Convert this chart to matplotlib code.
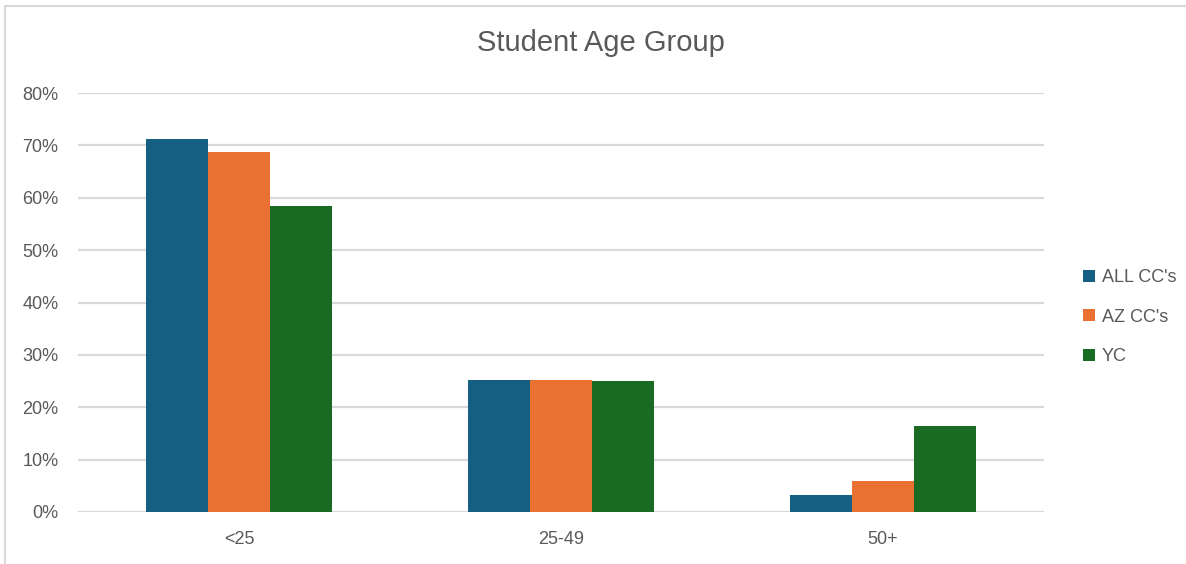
import numpy as np
import matplotlib.pyplot as plt
from matplotlib.patches import Rectangle
from matplotlib.ticker import PercentFormatter

plt.rcParams['font.family'] = ['Liberation Sans', 'DejaVu Sans']

groups = ["<25", "25-49", "50+"]
series = ["ALL CC's", "AZ CC's", "YC"]
all_cc = [0.712, 0.252, 0.032]
az_cc = [0.687, 0.252, 0.059]
yc = [0.584, 0.250, 0.164]
colors = ["#156082", "#E97132", "#196B24"]

text_gray = "#595959"
grid_gray = "#D9D9D9"

fig = plt.figure(figsize=(11.86, 5.64), dpi=100)
ax = fig.add_axes([0.0658, 0.0922, 0.8145, 0.7429])

x = np.arange(len(groups))
w = 0.1926
for i, (vals, name) in enumerate(zip([all_cc, az_cc, yc], series)):
    ax.bar(x + (i - 1) * w, vals, width=w, color=colors[i], label=name, zorder=3)

ax.set_xlim(-0.5, 2.5)
ax.set_ylim(0, 0.8)
ax.set_yticks(np.arange(0, 0.81, 0.1))
ax.yaxis.set_major_formatter(PercentFormatter(1.0, decimals=0))
ax.set_xticks(x)
ax.set_xticklabels(groups)
ax.grid(axis='y', color=grid_gray, linewidth=1.6, zorder=0)
for s in ax.spines.values():
    s.set_visible(False)
ax.tick_params(axis='both', length=0, labelsize=13, colors=text_gray)
ax.tick_params(axis='y', pad=14)
ax.tick_params(axis='x', pad=14)

fig.text(0.507, 0.923, "Student Age Group", ha='center', va='center',
         fontsize=21, color=text_gray)

ax.legend(loc='center left', bbox_to_anchor=(1.024, 0.465), frameon=False,
          fontsize=13, labelcolor=text_gray, handlelength=0.65, handleheight=0.65,
          handletextpad=0.35, labelspacing=1.25)

# light frame around the chart area
fig.patches.append(Rectangle((0.0045, -0.01), 1.0, 1.0, transform=fig.transFigure,
                             fill=False, edgecolor="#D9D9D9", linewidth=1.5))

fig.savefig("out.png", dpi=100)
